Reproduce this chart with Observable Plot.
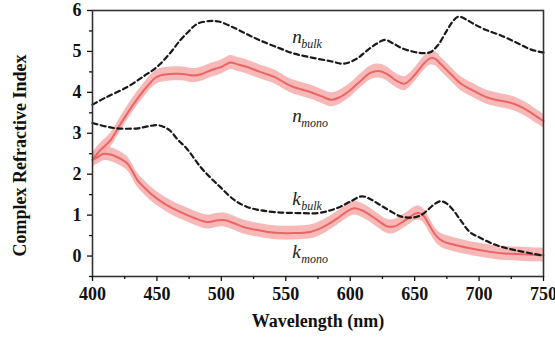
<!DOCTYPE html>
<html><head><meta charset="utf-8">
<script src="https://cdn.jsdelivr.net/npm/d3@7"></script>
<script src="https://cdn.jsdelivr.net/npm/@observablehq/plot@0.6"></script>
<style>body{margin:0;background:#fff}</style>
</head><body><div id="chart"></div>
<script>
// Wavelength (nm) and complex refractive index values
const nBulkX = [400,410,427,440,450,460,468,475,481,490,498,509,520,530,545,556,570,585,595,605,613,620,627,633,640,648,655,662,668,675,680,684,690,696,705,717,730,740,750];
const nBulkY = [3.70,3.87,4.13,4.40,4.62,4.95,5.27,5.50,5.67,5.74,5.73,5.59,5.42,5.27,5.08,4.95,4.85,4.76,4.70,4.82,5.02,5.18,5.28,5.20,5.08,5.00,4.96,4.98,5.15,5.51,5.75,5.85,5.78,5.67,5.53,5.39,5.20,5.05,4.97];

const kBulkX = [400,410,419,435,443,450,455,460,466,473,484,492,499,510,520,530,543,560,575,585,592,600,609,615,621,630,639,649,655,660,665,670,675,680,686,693,700,709,718,727,738,750];
const kBulkY = [3.25,3.17,3.12,3.12,3.17,3.20,3.16,3.07,2.85,2.63,2.17,1.90,1.69,1.37,1.20,1.12,1.07,1.05,1.05,1.12,1.20,1.33,1.46,1.40,1.29,1.12,0.97,0.94,1.00,1.12,1.26,1.34,1.28,1.12,0.86,0.58,0.46,0.32,0.22,0.15,0.08,0.01];

const nMonoX = [400,405,414,422,432,442,450,461,470,479,485,492,500,507,513,520,530,541,550,556,569,578,585,592,600,608,616,622,628,635,642,647,652,657,662,666,670,678,686,695,706,716,727,738,745,750];
const nMonoY = [2.35,2.55,2.83,3.24,3.72,4.13,4.38,4.45,4.45,4.41,4.45,4.54,4.62,4.73,4.68,4.62,4.50,4.38,4.22,4.13,4.01,3.90,3.82,3.88,4.05,4.28,4.48,4.52,4.46,4.30,4.21,4.32,4.50,4.70,4.83,4.82,4.70,4.45,4.21,4.05,3.88,3.80,3.72,3.55,3.40,3.30];

const kMonoX = [400,404,409,414,419,427,435,440,445,452,460,470,479,489,496,502,510,517,527,536,546,556,569,575,582,590,597,603,608,613,620,629,634,639,645,650,653,657,662,667,672,680,691,705,717,730,740,750];
const kMonoY = [2.35,2.42,2.50,2.48,2.42,2.26,1.85,1.68,1.53,1.36,1.20,1.05,0.93,0.83,0.87,0.88,0.80,0.71,0.64,0.59,0.56,0.56,0.59,0.65,0.76,0.92,1.08,1.17,1.13,1.05,0.90,0.72,0.72,0.80,0.92,1.03,1.05,0.98,0.72,0.48,0.36,0.28,0.20,0.12,0.07,0.05,0.03,0.02];

const bandHalf = 0.17;

const xTicks = [400,450,500,550,600,650,700,750];
const xMinor = [425,475,525,575,625,675,725];
const yTicks = [0,1,2,3,4,5,6];
const yMinor = [-0.5,0.5,1.5,2.5,3.5,4.5,5.5];

const labelX = [555,555,555,555];
const labelY = [5.2,3.27,1.24,-0.05];
const labelMain = ["n","n","k","k"];
const labelSub = ["bulk","mono","bulk","mono"];

const xTitle = "Wavelength (nm)";
const yTitle = "Complex Refractive Index";

const rows = (xs, ys) => xs.map((x, i) => ({x, y: ys[i]}));
const nBulk = rows(nBulkX, nBulkY);
const kBulk = rows(kBulkX, kBulkY);
const nMono = rows(nMonoX, nMonoY);
const kMono = rows(kMonoX, kMonoY);
const labels = labelX.map((x, i) => ({x, y: labelY[i], main: labelMain[i], sub: labelSub[i]}));

const serif = "'Liberation Serif', 'Times New Roman', serif";
const curve = "catmull-rom";

const chart = Plot.plot({
  width: 555,
  height: 339,
  marginLeft: 92,
  marginRight: 12,
  marginTop: 10,
  marginBottom: 63,
  x: {domain: [400, 750]},
  y: {domain: [-0.5, 6]},
  style: {fontFamily: serif, background: "#fff", color: "#111"},
  marks: [
    Plot.areaY(nMono, {x: "x", y1: d => d.y - bandHalf, y2: d => d.y + bandHalf, fill: "#f6abab", fillOpacity: 0.85, curve}),
    Plot.areaY(kMono, {x: "x", y1: d => d.y - bandHalf, y2: d => d.y + bandHalf, fill: "#f6abab", fillOpacity: 0.85, curve}),
    Plot.line(nMono, {x: "x", y: "y", stroke: "#ec6565", strokeWidth: 2, curve}),
    Plot.line(kMono, {x: "x", y: "y", stroke: "#ec6565", strokeWidth: 2, curve}),
    Plot.line(nBulk, {x: "x", y: "y", stroke: "#1a1a1a", strokeWidth: 2.2, strokeDasharray: "5,3.5", curve}),
    Plot.line(kBulk, {x: "x", y: "y", stroke: "#1a1a1a", strokeWidth: 2.2, strokeDasharray: "5,3.5", curve}),
    Plot.text(labels, {x: "x", y: "y", text: "main", textAnchor: "start", lineAnchor: "bottom", fontStyle: "italic", fontSize: 19, fill: "#222"}),
    Plot.text(labels, {x: "x", y: "y", text: "sub", textAnchor: "start", lineAnchor: "bottom", dx: 9, dy: 5, fontStyle: "italic", fontSize: 12, fill: "#222"}),
    Plot.frame({stroke: "#333", strokeWidth: 1.6}),
    Plot.axisX({ticks: xTicks, tickSize: 5, tickPadding: 6, fontSize: 18, fontWeight: "bold", tickFormat: d => String(d), label: null, strokeWidth: 1.3}),
    Plot.axisX({ticks: xMinor, tickSize: 3, tickFormat: () => "", label: null, strokeWidth: 1.3}),
    Plot.axisY({ticks: yTicks, tickSize: 5, tickPadding: 6, fontSize: 18, fontWeight: "bold", tickFormat: d => String(d), label: null, strokeWidth: 1.3}),
    Plot.axisY({ticks: yMinor, tickSize: 3, tickFormat: () => "", label: null, strokeWidth: 1.3}),
    Plot.text([xTitle], {frameAnchor: "bottom", dy: 50, fontSize: 18, fontWeight: "bold", fill: "#111"}),
    Plot.text([yTitle], {frameAnchor: "left", dx: -72, dy: 12, rotate: -90, textAnchor: "middle", fontSize: 18, fontWeight: "bold", fill: "#111"})
  ]
});
document.getElementById("chart").appendChild(chart);
</script>
</body></html>
